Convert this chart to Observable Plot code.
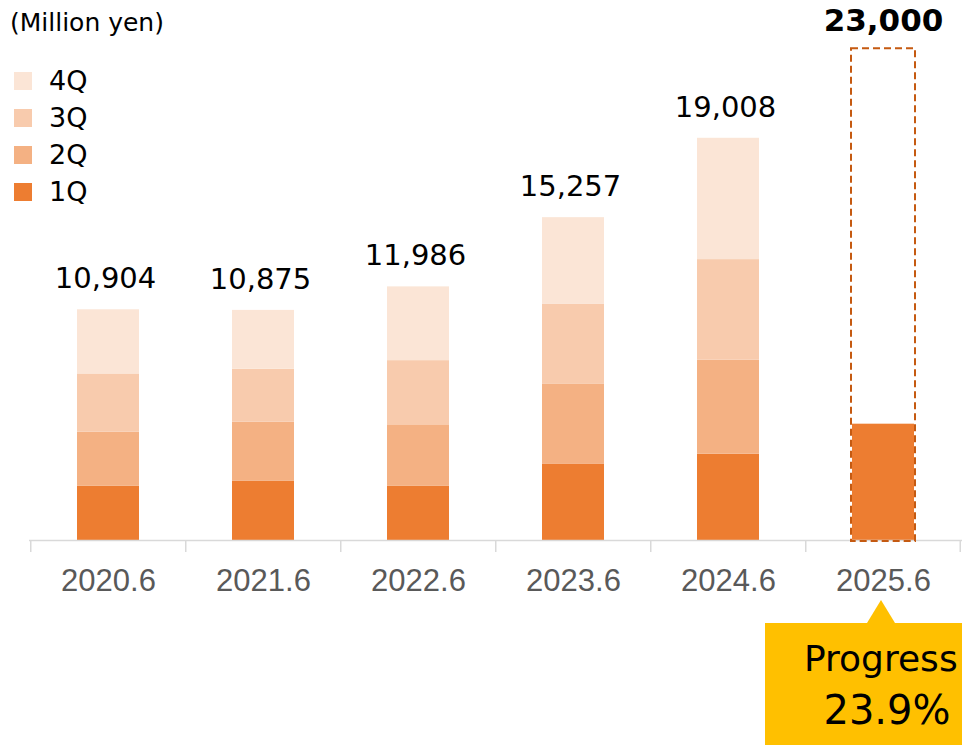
<!DOCTYPE html>
<html>
<head>
<meta charset="utf-8">
<script src="https://cdn.jsdelivr.net/npm/d3@7"></script>
<script src="https://cdn.jsdelivr.net/npm/@observablehq/plot@0.6"></script>
<style>
  html, body { margin: 0; padding: 0; background: #fff; }
  #wrap { position: relative; width: 962px; height: 745px; overflow: hidden; font-family: "DejaVu Sans", Verdana, sans-serif; }
  #title { position: absolute; left: 10px; top: 10px; font-size: 25px; line-height: 25px; color: #000; white-space: nowrap; }
  #legend { position: absolute; left: 14px; top: 62px; }
  .row { display: flex; align-items: center; height: 37px; }
  .sw { width: 18px; height: 18px; }
  .lab { margin-left: 17px; font-size: 27px; color: #000; line-height: 37px; }
  #callout { position: absolute; background: #FFC000; color: #000; }
  #callout .l1 { position: absolute; left: 39px; top: 634px; font-size: 36px; line-height: 40px; white-space: nowrap; }
  #callout .l2 { position: absolute; left: 0; width: 244px; text-align: center; font-size: 40px; line-height: 46px; white-space: nowrap; }
  #pointer { position: absolute; width: 0; height: 0; border-left: 14px solid transparent; border-right: 14px solid transparent; border-bottom: 23px solid #FFC000; }
</style>
</head>
<body>
<div id="wrap">
  <div id="chart"></div>
  <div id="title"></div>
  <div id="legend"></div>
  <div id="pointer"></div>
  <div id="callout"><div class="l1"></div><div class="l2"></div></div>
</div>
<script>
// ---- data ----
const years = ["2020.6", "2021.6", "2022.6", "2023.6", "2024.6", "2025.6"];
const quarters = ["1Q", "2Q", "3Q", "4Q"];
const q1 = [2560, 2811, 2574, 3617, 4077, 5497];
const q2 = [2560, 2783, 2892, 3760, 4442, null];
const q3 = [2750, 2498, 3034, 3779, 4755, null];
const q4 = [3034, 2783, 3486, 4101, 5734, null];
const totals = [10904, 10875, 11986, 15257, 19008, null];
const targetYear = "2025.6";
const targetValue = 23000;
const unitLabel = "(Million yen)";
const progressLabel = "Progress";
const colors = ["#ED7D31", "#F4B183", "#F8CBAD", "#FBE5D6"];

// ---- build tables ----
const series = [q1, q2, q3, q4];
const stacked = [];
years.forEach((yr, i) => {
  quarters.forEach((q, j) => {
    const v = series[j][i];
    if (v != null) stacked.push({year: yr, quarter: q, value: v});
  });
});
const totalRows = years.map((yr, i) => ({year: yr, total: totals[i]})).filter(d => d.total != null);
const targetRows = [{year: targetYear, value: targetValue}];
const fmt = d3.format(",");

const W = 962, H = 745, ML = 29, MR = 0, MT = 11, MB = 205;
const step = (W - ML - MR) / years.length;

const chart = Plot.plot({
  width: W,
  height: H,
  marginLeft: ML,
  marginRight: MR,
  marginTop: MT,
  marginBottom: MB,
  style: {fontFamily: "DejaVu Sans, Verdana, sans-serif", background: "transparent", overflow: "visible"},
  x: {type: "band", domain: years, paddingInner: 0.6, paddingOuter: 0.3, axis: null},
  y: {domain: [0, 25000], axis: null},
  color: {domain: quarters, range: colors},
  marks: [
    Plot.barY(stacked, {x: "year", y: "value", fill: "quarter"}),
    Plot.ruleY([0], {stroke: "#D9D9D9", strokeWidth: 1.5}),
    Plot.ruleX(years, {x: d => d, dx: -step / 2, y1: 0, y2: 0, insetBottom: -12, stroke: "#D9D9D9", strokeWidth: 1.5}),
    Plot.ruleX([years[years.length - 1]], {x: d => d, dx: step / 2 - 1, y1: 0, y2: 0, insetBottom: -12, stroke: "#D9D9D9", strokeWidth: 1.5}),
    Plot.barY(targetRows, {x: "year", y: "value", fill: "none", stroke: "#C55A11", strokeWidth: 2, strokeDasharray: "7,4", inset: -1, insetTop: -5}),
    Plot.text(totalRows, {x: "year", y: "total", text: d => fmt(d.total), dy: -31, dx: -3, fontSize: 29, fill: "#000"}),
    Plot.text(targetRows, {x: "year", y: "value", text: d => fmt(d.value), dy: -33, fontSize: 31, fontWeight: "bold", fill: "#000"}),
    Plot.text(years, {x: d => d, frameAnchor: "bottom", dy: 28, lineAnchor: "top", text: d => d, fontSize: 31, fontFamily: "Liberation Sans, Arial, sans-serif", fill: "#595959"})
  ]
});
document.getElementById("chart").appendChild(chart);

// title
document.getElementById("title").textContent = unitLabel;

// legend (top to bottom 4Q..1Q)
const legend = document.getElementById("legend");
quarters.slice().reverse().forEach(q => {
  const row = document.createElement("div");
  row.className = "row";
  const sw = document.createElement("div");
  sw.className = "sw";
  sw.style.background = colors[quarters.indexOf(q)];
  const lab = document.createElement("div");
  lab.className = "lab";
  lab.textContent = q;
  row.appendChild(sw); row.appendChild(lab);
  legend.appendChild(row);
});

// callout anchored on the target bar via the x scale
const xs = chart.scale("x");
const cx = xs.apply(targetYear) + xs.bandwidth / 2;
const pct = (q1[years.indexOf(targetYear)] / targetValue * 100).toFixed(1) + "%";
const callout = document.getElementById("callout");
const boxLeft = cx - 118;
callout.style.left = boxLeft + "px";
callout.style.top = "623px";
callout.style.width = (W - boxLeft) + "px";
callout.style.height = "140px";
const l1 = callout.querySelector(".l1");
l1.textContent = progressLabel;
l1.style.top = "16px";
const l2 = callout.querySelector(".l2");
l2.textContent = pct;
l2.style.top = "64px";
const ptr = document.getElementById("pointer");
ptr.style.left = (cx - 16) + "px";
ptr.style.top = "600px";
</script>
</body>
</html>
